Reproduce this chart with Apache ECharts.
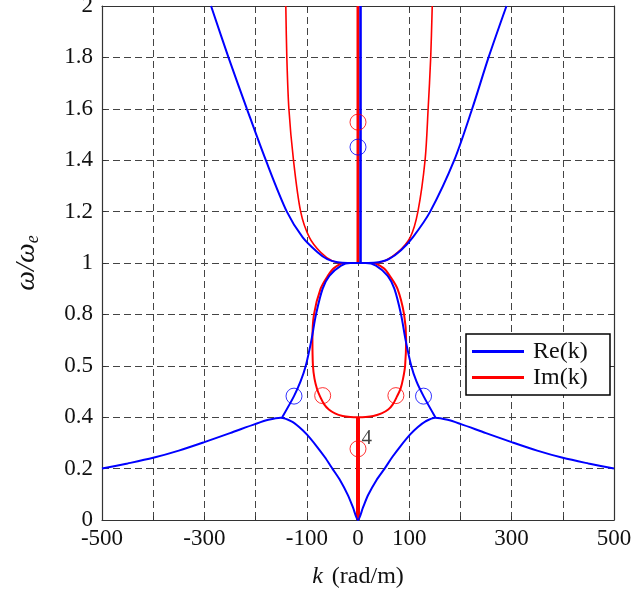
<!DOCTYPE html>
<html>
<head>
<meta charset="utf-8">
<script src="https://cdn.jsdelivr.net/npm/echarts@6/dist/echarts.min.js"></script>
<style>
  html, body { margin: 0; padding: 0; background: #fff; }
  #chart { width: 633px; height: 594px; }
</style>
</head>
<body>
<div id="chart"></div>
<script>
// Dispersion branches: each point is [k (rad/m), omega/omega_e]

// Re(k) — outer upper branches
const reOuterLeft = [[0,1.0],[-20,1.0],[-40,1.003],[-60,1.015],[-79,1.042],[-108,1.10],[-139,1.20],[-180,1.40],[-217,1.60],[-253,1.80],[-287,2.0]];
const reOuterRight = [[0,1.0],[20,1.0],[40,1.003],[60,1.015],[84,1.05],[107,1.10],[141,1.20],[188,1.40],[223,1.60],[255,1.80],[290,2.0]];
// Re(k) — inner branches between omega_e and the lower band
const reInnerLeft = [[0,1.0],[-15,1.0],[-33,0.99],[-56,0.95],[-69,0.90],[-82,0.80],[-91,0.70],[-102,0.60],[-112,0.54],[-125,0.482],[-148,0.40]];
const reInnerRight = [[0,1.0],[15,1.0],[35,0.99],[58,0.95],[71,0.90],[84,0.80],[93,0.70],[104,0.60],[114,0.54],[128,0.482],[151,0.40]];
// Re(k) — lower band
const reLower = [[-500,0.200],[-450,0.220],[-400,0.242],[-350,0.270],[-300,0.303],[-250,0.338],[-200,0.374],[-175,0.390],[-151,0.398],[-130,0.384],[-115,0.362],[-100,0.333],[-80,0.285],[-65,0.245],[-50,0.20],[-35,0.155],[-20,0.098],[-10,0.05],[0,0],
  [10,0.05],[20,0.098],[36,0.155],[52,0.20],[67,0.245],[82,0.285],[102,0.333],[117,0.362],[132,0.384],[151,0.398],[175,0.390],[200,0.374],[250,0.338],[300,0.303],[350,0.270],[400,0.242],[450,0.220],[500,0.200]];
// Re(k) — vertical branch above omega_e
const reAxis = [[5,1.0],[5,2.0]];

// Im(k) — outer upper branches
const imOuterLeft = [[0,1.0],[-30,1.0],[-50,1.008],[-73,1.042],[-95,1.10],[-112,1.20],[-126,1.40],[-135,1.60],[-139,1.80],[-141,2.0]];
const imOuterRight = [[0,1.0],[30,1.0],[52,1.008],[78,1.042],[102,1.10],[117,1.20],[131,1.40],[137,1.60],[142,1.80],[145,2.0]];
// Im(k) — closed loop between 0.4 and 1
const imLoop = [[0,1.0],[-27,1.0],[-47,0.98],[-59,0.95],[-73,0.90],[-86,0.80],[-89,0.70],[-88,0.60],[-85,0.55],[-80,0.51],[-74,0.48],[-66,0.45],[-57,0.43],[-45,0.415],[-30,0.405],[-15,0.401],[0,0.40],
  [15,0.401],[30,0.405],[46,0.415],[59,0.43],[68,0.45],[76,0.48],[83,0.51],[88,0.55],[92,0.60],[94,0.70],[90,0.80],[77,0.90],[62,0.95],[50,0.98],[28,1.0],[0,1.0]];
// Im(k) — vertical branches
const imAxisTop = [[0,1.0],[0,2.0]];
const imAxisBottom = [[0,0],[0,0.4]];

// Marked operating points
const reMarks = [[-125,0.482],[128,0.482],[0,1.451]];
const imMarks = [[-69,0.484],[74,0.484],[0,1.548],[0,0.277]];
const notes = [{ k: 17, w: 0.319, text: '4' }];

// Tick labels
const xTickValues = [-500, -300, -100, 0, 100, 300, 500];
const xTickLabels = ['-500', '-300', '-100', '0', '100', '300', '500'];
const yTickLabels = ['0', '0.2', '0.4', '0.5', '0.8', '1', '1.2', '1.4', '1.6', '1.8', '2'];

const BLUE = '#0000ff';
const RED = '#ff0000';
const FONT = 'Liberation Serif';

function line(name, color, data, width, extra) {
  return Object.assign({
    type: 'line', name: name, data: data, color: color,
    showSymbol: false, symbol: 'none', smooth: 0.3,
    lineStyle: { color: color, width: width },
    silent: true, z: 3
  }, extra || {});
}

function marks(color, data) {
  return {
    type: 'scatter', name: 'marks', data: data, symbol: 'circle', symbolSize: 16,
    itemStyle: { color: 'rgba(0,0,0,0)', borderColor: color, borderWidth: 1 },
    silent: true, z: 5
  };
}

const chart = echarts.init(document.getElementById('chart'), null, { renderer: 'canvas' });

const gridLine = { show: true, lineStyle: { color: '#444', width: 1, type: [7, 4] } };
const tick = { show: true, inside: true, length: 4, lineStyle: { color: '#333' } };

chart.setOption({
  animation: false,
  backgroundColor: '#fff',
  grid: { left: 102, right: 19, top: 6, bottom: 74, containLabel: false, outerBoundsMode: 'none' },
  legend: {
    data: ['Re(k)', 'Im(k)'],
    orient: 'vertical', left: 466, top: 334,
    icon: 'rect', itemWidth: 52, itemHeight: 3, itemGap: 1,
    padding: [5, 15, 5, 6],
    backgroundColor: '#fff', borderColor: '#000', borderWidth: 1.5,
    textStyle: { fontFamily: FONT, fontSize: 24, color: '#111', lineHeight: 25, width: 62, padding: [0, 0, 0, 4] },
    selectedMode: false, z: 10
  },
  xAxis: [{
    type: 'value', min: -500, max: 500, interval: 100,
    name: '{i|k} (rad/m)', nameLocation: 'middle', nameGap: 45,
    nameTextStyle: { fontFamily: FONT, fontSize: 24, color: '#111', rich: { i: { fontFamily: FONT, fontSize: 24, fontStyle: 'italic', color: '#111', padding: [0, 3, 0, 0] } } },
    axisLine: { show: true, onZero: false, lineStyle: { color: '#333', width: 1.2 } },
    axisTick: tick,
    axisLabel: {
      fontFamily: FONT, fontSize: 23, color: '#111', margin: 7,
      showMinLabel: true, showMaxLabel: true, interval: 0,
      formatter: function (v) { const i = xTickValues.indexOf(Math.round(v)); return i >= 0 ? xTickLabels[i] : ''; }
    },
    splitLine: gridLine
  }, {
    type: 'value', position: 'top', min: -500, max: 500, interval: 100,
    axisLine: { show: true, onZero: false, lineStyle: { color: '#333', width: 1.2 } },
    axisTick: { show: true, inside: true, length: 4, lineStyle: { color: '#333' }, customValues: xTickValues },
    axisLabel: { show: false }, splitLine: { show: false }
  }],
  yAxis: [{
    type: 'value', min: 0, max: 2, interval: 0.2,
    name: '{w|ω/ω}{e|e}', nameLocation: 'middle', nameGap: 60, nameRotate: 90,
    nameTextStyle: {
      fontFamily: FONT, fontSize: 28, color: '#111',
      rich: {
        w: { fontFamily: FONT, fontSize: 28, fontStyle: 'italic', color: '#111', lineHeight: 30 },
        e: { fontFamily: FONT, fontSize: 18, fontStyle: 'italic', color: '#111', lineHeight: 30, verticalAlign: 'bottom', padding: [9, 0, 0, 0] }
      }
    },
    axisLine: { show: true, onZero: false, lineStyle: { color: '#333', width: 1.2 } },
    axisTick: tick,
    axisLabel: {
      fontFamily: FONT, fontSize: 23, color: '#111', margin: 9,
      showMinLabel: true, showMaxLabel: true,
      formatter: function (v) { const i = Math.round(v / 0.2); return yTickLabels[i] !== undefined ? yTickLabels[i] : ''; }
    },
    splitLine: gridLine
  }, {
    type: 'value', position: 'right', min: 0, max: 2, interval: 0.2,
    axisLine: { show: true, onZero: false, lineStyle: { color: '#333', width: 1.2 } },
    axisTick: tick,
    axisLabel: { show: false }, splitLine: { show: false }
  }],
  series: [
    line('Im(k)', RED, imOuterLeft, 1.6),
    line('Im(k)', RED, imOuterRight, 1.6),
    line('Im(k)', RED, imLoop, 2),
    line('Im(k)', RED, imAxisTop, 3, { smooth: false }),
    line('Im(k)', RED, imAxisBottom, 4, { smooth: false }),
    line('Re(k)', BLUE, reOuterLeft, 2),
    line('Re(k)', BLUE, reOuterRight, 2),
    line('Re(k)', BLUE, reInnerLeft, 2),
    line('Re(k)', BLUE, reInnerRight, 2),
    line('Re(k)', BLUE, reLower, 2),
    line('Re(k)', BLUE, reAxis, 2.5, { smooth: false }),
    marks(BLUE, reMarks),
    marks(RED, imMarks),
    {
      type: 'scatter', name: 'notes', symbolSize: 1, silent: true, z: 6,
      itemStyle: { color: 'rgba(0,0,0,0)' },
      data: notes.map(function (n) { return { value: [n.k, n.w], label: { show: true, formatter: n.text } }; }),
      label: { position: 'inside', fontFamily: FONT, fontSize: 21, color: '#111' }
    }
  ]
});
</script>
</body>
</html>
